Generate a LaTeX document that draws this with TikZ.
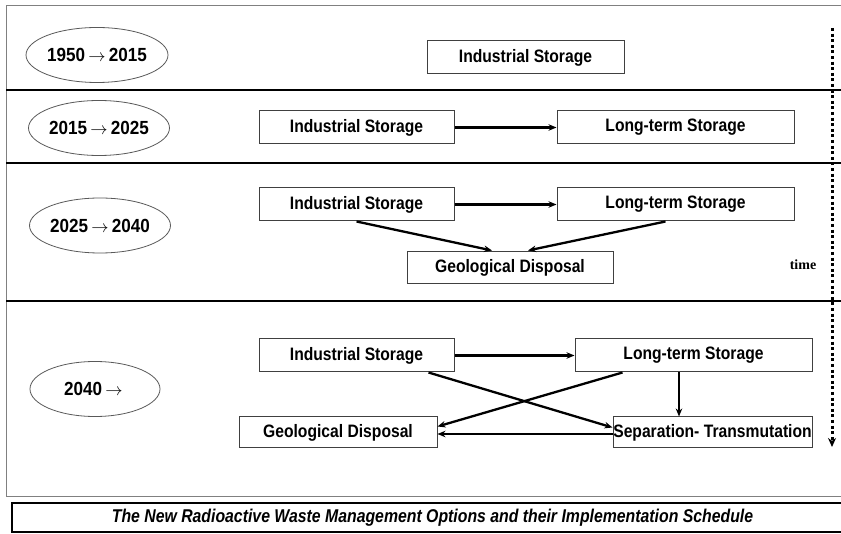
\documentclass[tikz,border=0pt]{standalone}
\usepackage{fontspec}
\setmainfont{Liberation Sans}
\newfontfamily\boxfont[FakeStretch=0.87]{Liberation Sans}
\newfontfamily\perfont[FakeStretch=0.9]{Liberation Sans}
\newfontfamily\capfont[FakeStretch=0.855]{Liberation Sans}
\newfontfamily\timefont{Liberation Serif}
\usetikzlibrary{shapes.geometric,arrows.meta}
\tikzset{
  period/.style={ellipse, draw=black!65, line width=0.8pt, minimum width=#1, minimum height=55pt, inner sep=0pt,
    font=\perfont\bfseries\fontsize{19}{21}\selectfont},
  period/.default=140pt,
  optbox/.style={rectangle, draw=black!75, line width=1pt, minimum height=33pt, inner sep=0pt,
    font=\boxfont\bfseries\fontsize{18}{20}\selectfont},
  flow/.style={line width=2.3pt, -{Stealth[length=8pt,width=6.5pt]}},
  sep/.style={line width=2.4pt, black},
}
\newcommand{\yarr}{\,$\rightarrow$\,}
\begin{document}
\begin{tikzpicture}[x=1pt,y=-1pt]
\useasboundingbox (0,0) rectangle (841,534);
% outer frame
\draw[black!50, line width=1pt] (848,6) -- (6.5,6) -- (6.5,496) -- (848,496);
% separators
\draw[sep] (6,90) -- (848,90);
\draw[sep] (6,163) -- (848,163);
\draw[sep] (6,301) -- (848,301);
% periods
\node[period=142pt] (p1) at (97,55) {1950\yarr2015};
\node[period=138pt] (p2) at (99,128) {2015\yarr2025};
\node[period=140pt] (p3) at (100,225.5) {2025\yarr2040};
\node[period=130pt] (p4) at (95,389) {2040\yarr\hspace{2.2em}};
% row 1
\node[optbox, minimum width=197pt] (is1) at (525.5,57.5) {Industrial Storage};
% row 2
\node[optbox, minimum width=195pt] (is2) at (356.5,127.5) {Industrial Storage};
\node[optbox, minimum width=237pt] (lt2) at (675.5,127.5) {Long-term Storage};
\draw[flow] (is2) -- (lt2);
% row 3
\node[optbox, minimum width=195pt] (is3) at (356.5,204.5) {Industrial Storage};
\node[optbox, minimum width=237pt] (lt3) at (675.5,204.5) {Long-term Storage};
\node[optbox, minimum width=206pt, minimum height=32pt] (gd3) at (510,268) {Geological Disposal};
\draw[flow] (is3) -- (lt3);
\draw[flow] (is3.south) -- ([xshift=-18pt,yshift=1pt]gd3.north);
\draw[flow] ([xshift=-10pt]lt3.south) -- ([xshift=18pt,yshift=1pt]gd3.north);
\node[font=\timefont\bfseries\fontsize{14}{16}\selectfont] (time) at (803,265) {time};
% row 4
\node[optbox, minimum width=195pt] (is4) at (356.5,355.5) {Industrial Storage};
\node[optbox, minimum width=237pt] (lt4) at (693.5,355.5) {Long-term Storage};
\node[optbox, minimum width=198pt, minimum height=31pt] (gd4) at (338,432.5) {Geological Disposal};
\node[optbox, minimum width=199pt, minimum height=31pt] (st4) at (712.5,432.5) {Separation- Transmutation};
\draw[flow] (is4) -- (lt4);
\draw[flow] ([xshift=-26pt]is4.south east) -- ([yshift=5pt]st4.west);
\draw[flow] ([xshift=48pt]lt4.south west) -- ([yshift=6pt]gd4.east);
\draw[flow] ([xshift=-14.5pt]lt4.south) -- ([xshift=-14.5pt]lt4.south |- st4.north);
\draw[flow] ([yshift=-1.5pt]st4.west) -- ([yshift=-1.5pt]gd4.east);
% time axis
\coordinate (ttop) at (832,28);
\coordinate (tbot) at (832,447);
\draw[line width=3pt, dash pattern=on 3pt off 2.6pt, -{Stealth[length=9pt,width=8pt]}] (ttop) -- (tbot);
% caption
\draw[line width=2pt] (848,503) -- (12,503) -- (12,532) -- (848,532);
\node[font=\capfont\bfseries\itshape\fontsize{18.5}{20}\selectfont] (cap) at (432.5,517.5)
  {The New Radioactive Waste Management Options and their Implementation Schedule};
\end{tikzpicture}
\end{document}
